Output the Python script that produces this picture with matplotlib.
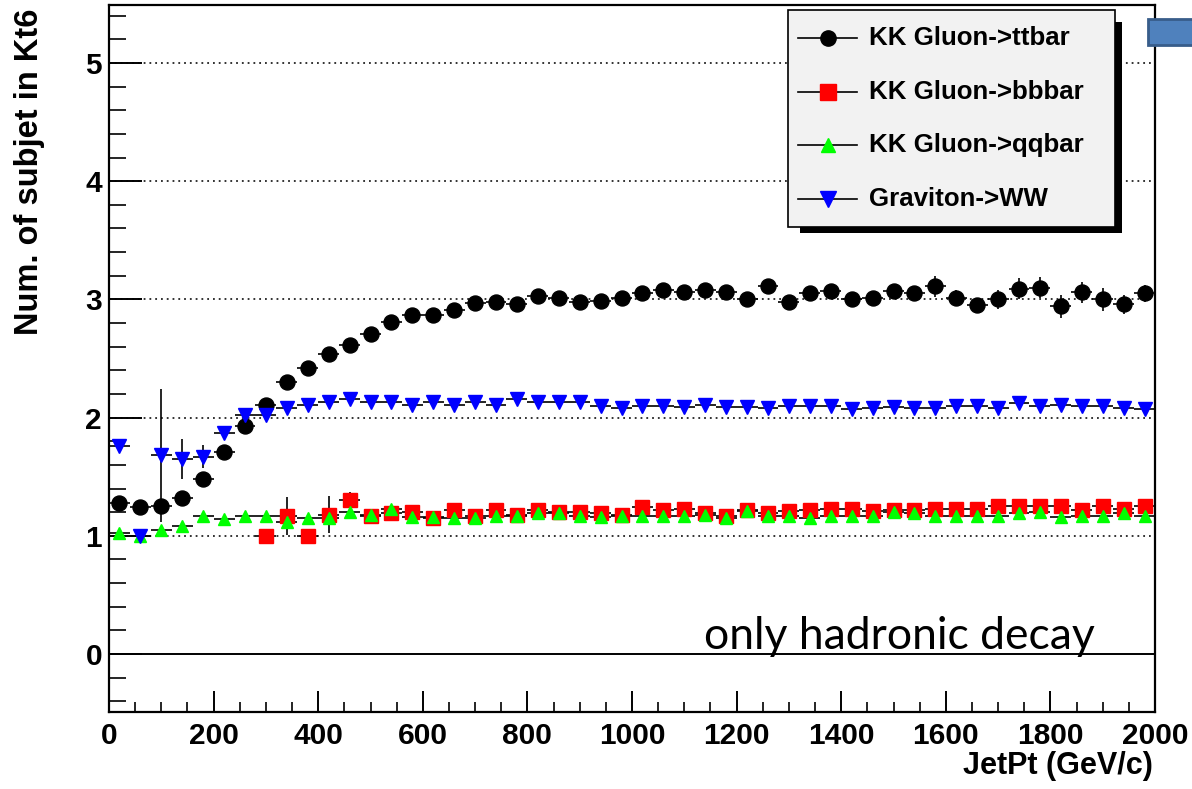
import matplotlib
matplotlib.use("Agg")
import numpy as np
import matplotlib.pyplot as plt
from matplotlib.patches import Rectangle
from matplotlib.lines import Line2D
from matplotlib.ticker import MultipleLocator, FixedLocator

W, H = 1192, 789
BOLD = "Liberation Sans"

# Bin centres of the 40 GeV/c jet-pT bins
jet_pt = [20, 60, 100, 140, 180, 220, 260, 300, 340, 380,
          420, 460, 500, 540, 580, 620, 660, 700, 740, 780,
          820, 860, 900, 940, 980, 1020, 1060, 1100, 1140, 1180,
          1220, 1260, 1300, 1340, 1380, 1420, 1460, 1500, 1540, 1580,
          1620, 1660, 1700, 1740, 1780, 1820, 1860, 1900, 1940, 1980]
bin_half_width = 20

ttbar = [1.28, 1.24, 1.25, 1.32, 1.48, 1.71, 1.93, 2.11, 2.30, 2.42,
         2.54, 2.61, 2.71, 2.81, 2.87, 2.87, 2.91, 2.97, 2.98, 2.96,
         3.03, 3.01, 2.98, 2.99, 3.01, 3.05, 3.08, 3.06, 3.08, 3.06,
         3.00, 3.11, 2.98, 3.05, 3.07, 3.00, 3.01, 3.07, 3.05, 3.11,
         3.01, 2.95, 3.00, 3.09, 3.10, 2.94, 3.06, 3.00, 2.96, 3.05]
ttbar_err = [0.03, 0.02, 0.03, 0.03, 0.03, 0.03, 0.03, 0.03, 0.03, 0.03,
             0.03, 0.03, 0.03, 0.03, 0.03, 0.03, 0.03, 0.03, 0.03, 0.03,
             0.03, 0.03, 0.03, 0.03, 0.03, 0.04, 0.04, 0.04, 0.04, 0.04,
             0.04, 0.05, 0.04, 0.05, 0.05, 0.04, 0.05, 0.05, 0.05, 0.09,
             0.07, 0.05, 0.08, 0.09, 0.09, 0.10, 0.09, 0.10, 0.08, 0.07]

nan = np.nan
bbbar = [nan, nan, nan, nan, nan, nan, nan, 1.00, 1.17, 1.00,
         1.18, 1.30, 1.17, 1.19, 1.20, 1.15, 1.22, 1.17, 1.22, 1.18,
         1.22, 1.20, 1.20, 1.19, 1.18, 1.24, 1.22, 1.23, 1.19, 1.17,
         1.22, 1.19, 1.21, 1.22, 1.23, 1.23, 1.21, 1.22, 1.22, 1.23,
         1.23, 1.23, 1.25, 1.25, 1.25, 1.25, 1.22, 1.25, 1.23, 1.25]
bbbar_err = [0, 0, 0, 0, 0, 0, 0, 0.02, 0.16, 0.02,
             0.16, 0.07, 0.03, 0.03, 0.03, 0.03, 0.03, 0.03, 0.03, 0.03,
             0.03, 0.03, 0.03, 0.03, 0.03, 0.03, 0.03, 0.03, 0.03, 0.03,
             0.03, 0.03, 0.03, 0.03, 0.03, 0.03, 0.03, 0.03, 0.03, 0.03,
             0.03, 0.03, 0.03, 0.03, 0.03, 0.03, 0.03, 0.03, 0.03, 0.03]

qqbar = [1.02, 1.00, 1.05, 1.08, 1.17, 1.14, 1.17, 1.17, 1.12, 1.15,
         1.15, 1.20, 1.18, 1.23, 1.16, 1.16, 1.15, 1.15, 1.17, 1.17,
         1.19, 1.19, 1.17, 1.16, 1.17, 1.17, 1.17, 1.17, 1.18, 1.15,
         1.21, 1.17, 1.17, 1.15, 1.17, 1.17, 1.17, 1.20, 1.19, 1.17,
         1.17, 1.17, 1.17, 1.19, 1.20, 1.16, 1.17, 1.17, 1.19, 1.17]
qqbar_err = [0.02] * 50

graviton_ww = [1.76, 1.00, 1.68, 1.65, 1.67, 1.87, 2.02, 2.02, 2.08, 2.11,
               2.13, 2.16, 2.13, 2.13, 2.11, 2.13, 2.11, 2.13, 2.11, 2.16,
               2.13, 2.13, 2.13, 2.10, 2.08, 2.10, 2.10, 2.09, 2.11, 2.09,
               2.09, 2.08, 2.10, 2.10, 2.10, 2.07, 2.08, 2.09, 2.08, 2.08,
               2.10, 2.10, 2.08, 2.12, 2.10, 2.11, 2.10, 2.10, 2.08, 2.07]
graviton_ww_err = [0.03, 0.03, 0.56, 0.17, 0.10, 0.05, 0.03, 0.02, 0.02, 0.02,
                   0.02, 0.02, 0.02, 0.02, 0.02, 0.02, 0.02, 0.02, 0.02, 0.02,
                   0.02, 0.02, 0.02, 0.02, 0.02, 0.02, 0.02, 0.02, 0.02, 0.02,
                   0.02, 0.02, 0.02, 0.02, 0.02, 0.02, 0.02, 0.02, 0.02, 0.02,
                   0.02, 0.02, 0.02, 0.02, 0.02, 0.02, 0.02, 0.02, 0.02, 0.02]

labels = ["KK Gluon->ttbar", "KK Gluon->bbbar", "KK Gluon->qqbar", "Graviton->WW"]
colors = ["#000000", "#ff0000", "#00ff00", "#0000ff"]
markers = ["o", "s", "^", "v"]
msizes = [10.8, 10.2, 9.0, 10.2]

y_major = [0, 1, 2, 3, 4, 5]


def fx(px):
    return px / W


def fy(py):
    return 1 - py / H


fig = plt.figure(figsize=(W / 100, H / 100), dpi=100)
fig.patch.set_facecolor("white")
ax = fig.add_axes([fx(109), fy(712), (1155 - 109) / W, (712 - 5) / H])
ax.set_xlim(0, 2000)
ax.set_ylim(-0.49, 5.49)

# horizontal dotted grid and the zero line
for yv in y_major[1:]:
    ax.axhline(yv, color="#222222", lw=1.3, ls=(0, (1, 2.2)), zorder=1)
ax.axhline(0, color="black", lw=1.4, zorder=1)

series = [(ttbar, ttbar_err), (bbbar, bbbar_err), (qqbar, qqbar_err),
          (graviton_ww, graviton_ww_err)]
for (vals, errs), c, m, ms in zip(series, colors, markers, msizes):
    ax.errorbar(jet_pt, vals, xerr=bin_half_width, yerr=errs, fmt=m,
                color=c, ms=ms, mec=c, mfc=c, ecolor="black",
                elinewidth=1.2, capsize=0, zorder=3)

# axes styling
for sp in ax.spines.values():
    sp.set_linewidth(1.6)
    sp.set_color("black")
    sp.set_zorder(5)

ax.xaxis.set_major_locator(MultipleLocator(200))
ax.xaxis.set_minor_locator(MultipleLocator(50))
ax.yaxis.set_major_locator(FixedLocator(y_major))
ax.yaxis.set_minor_locator(MultipleLocator(0.2))
ax.tick_params(axis="both", which="both", direction="in", color="black",
               top=False, right=False)
ax.tick_params(axis="y", which="major", length=24, width=1.4, pad=5)
ax.tick_params(axis="y", which="minor", length=12, width=1.2)
ax.tick_params(axis="x", which="major", length=15, width=1.4, pad=7)
ax.tick_params(axis="x", which="minor", length=7.5, width=1.2)
for lab in ax.get_xticklabels() + ax.get_yticklabels():
    lab.set_fontfamily(BOLD)
    lab.set_fontweight("bold")
    lab.set_fontsize(21.5)

fig.text(fx(1153), fy(766), "JetPt (GeV/c)", ha="right", va="center",
         fontsize=22, fontweight="bold", family=BOLD)
fig.text(fx(30), fy(9), "Num. of subjet in Kt6", ha="center", va="top",
         rotation=90, fontsize=23.5, fontweight="bold", family=BOLD)

fig.text(fx(704), fy(649), "only hadronic decay", ha="left", va="baseline",
         fontsize=32, family="Lato", color="black")

# legend box with drop shadow
fig.patches.append(Rectangle((fx(800), fy(233)), (1122 - 800) / W, (233 - 22) / H,
                             transform=fig.transFigure, facecolor="black",
                             edgecolor="none", zorder=10))
fig.patches.append(Rectangle((fx(788), fy(227)), (1115 - 788) / W, (227 - 10) / H,
                             transform=fig.transFigure, facecolor="#f2f2f2",
                             edgecolor="black", lw=1.2, zorder=11))
row_y = [38, 92, 145, 199]
leg_ms = [11, 11, 9.5, 11]
for ry, lab, c, m, ms in zip(row_y, labels, colors, markers, leg_ms):
    fig.lines.append(Line2D([fx(798), fx(857)], [fy(ry), fy(ry)],
                            transform=fig.transFigure, color="black", lw=1.2,
                            zorder=12))
    fig.lines.append(Line2D([fx(827.5)], [fy(ry)], transform=fig.transFigure,
                            marker=m, ms=ms, color=c, mec=c, mfc=c, ls="none",
                            zorder=13))
    fig.text(fx(869), fy(ry), lab, ha="left", va="center", fontsize=18.6,
             fontweight="bold", family=BOLD, zorder=13)

# slide shape at the top right corner
fig.patches.append(Rectangle((fx(1148), fy(45)), (1200 - 1148) / W, (45 - 19) / H,
                             transform=fig.transFigure, facecolor="#4f81bd",
                             edgecolor="#385d8a", lw=2, zorder=10))

fig.savefig("out.png", dpi=100)
